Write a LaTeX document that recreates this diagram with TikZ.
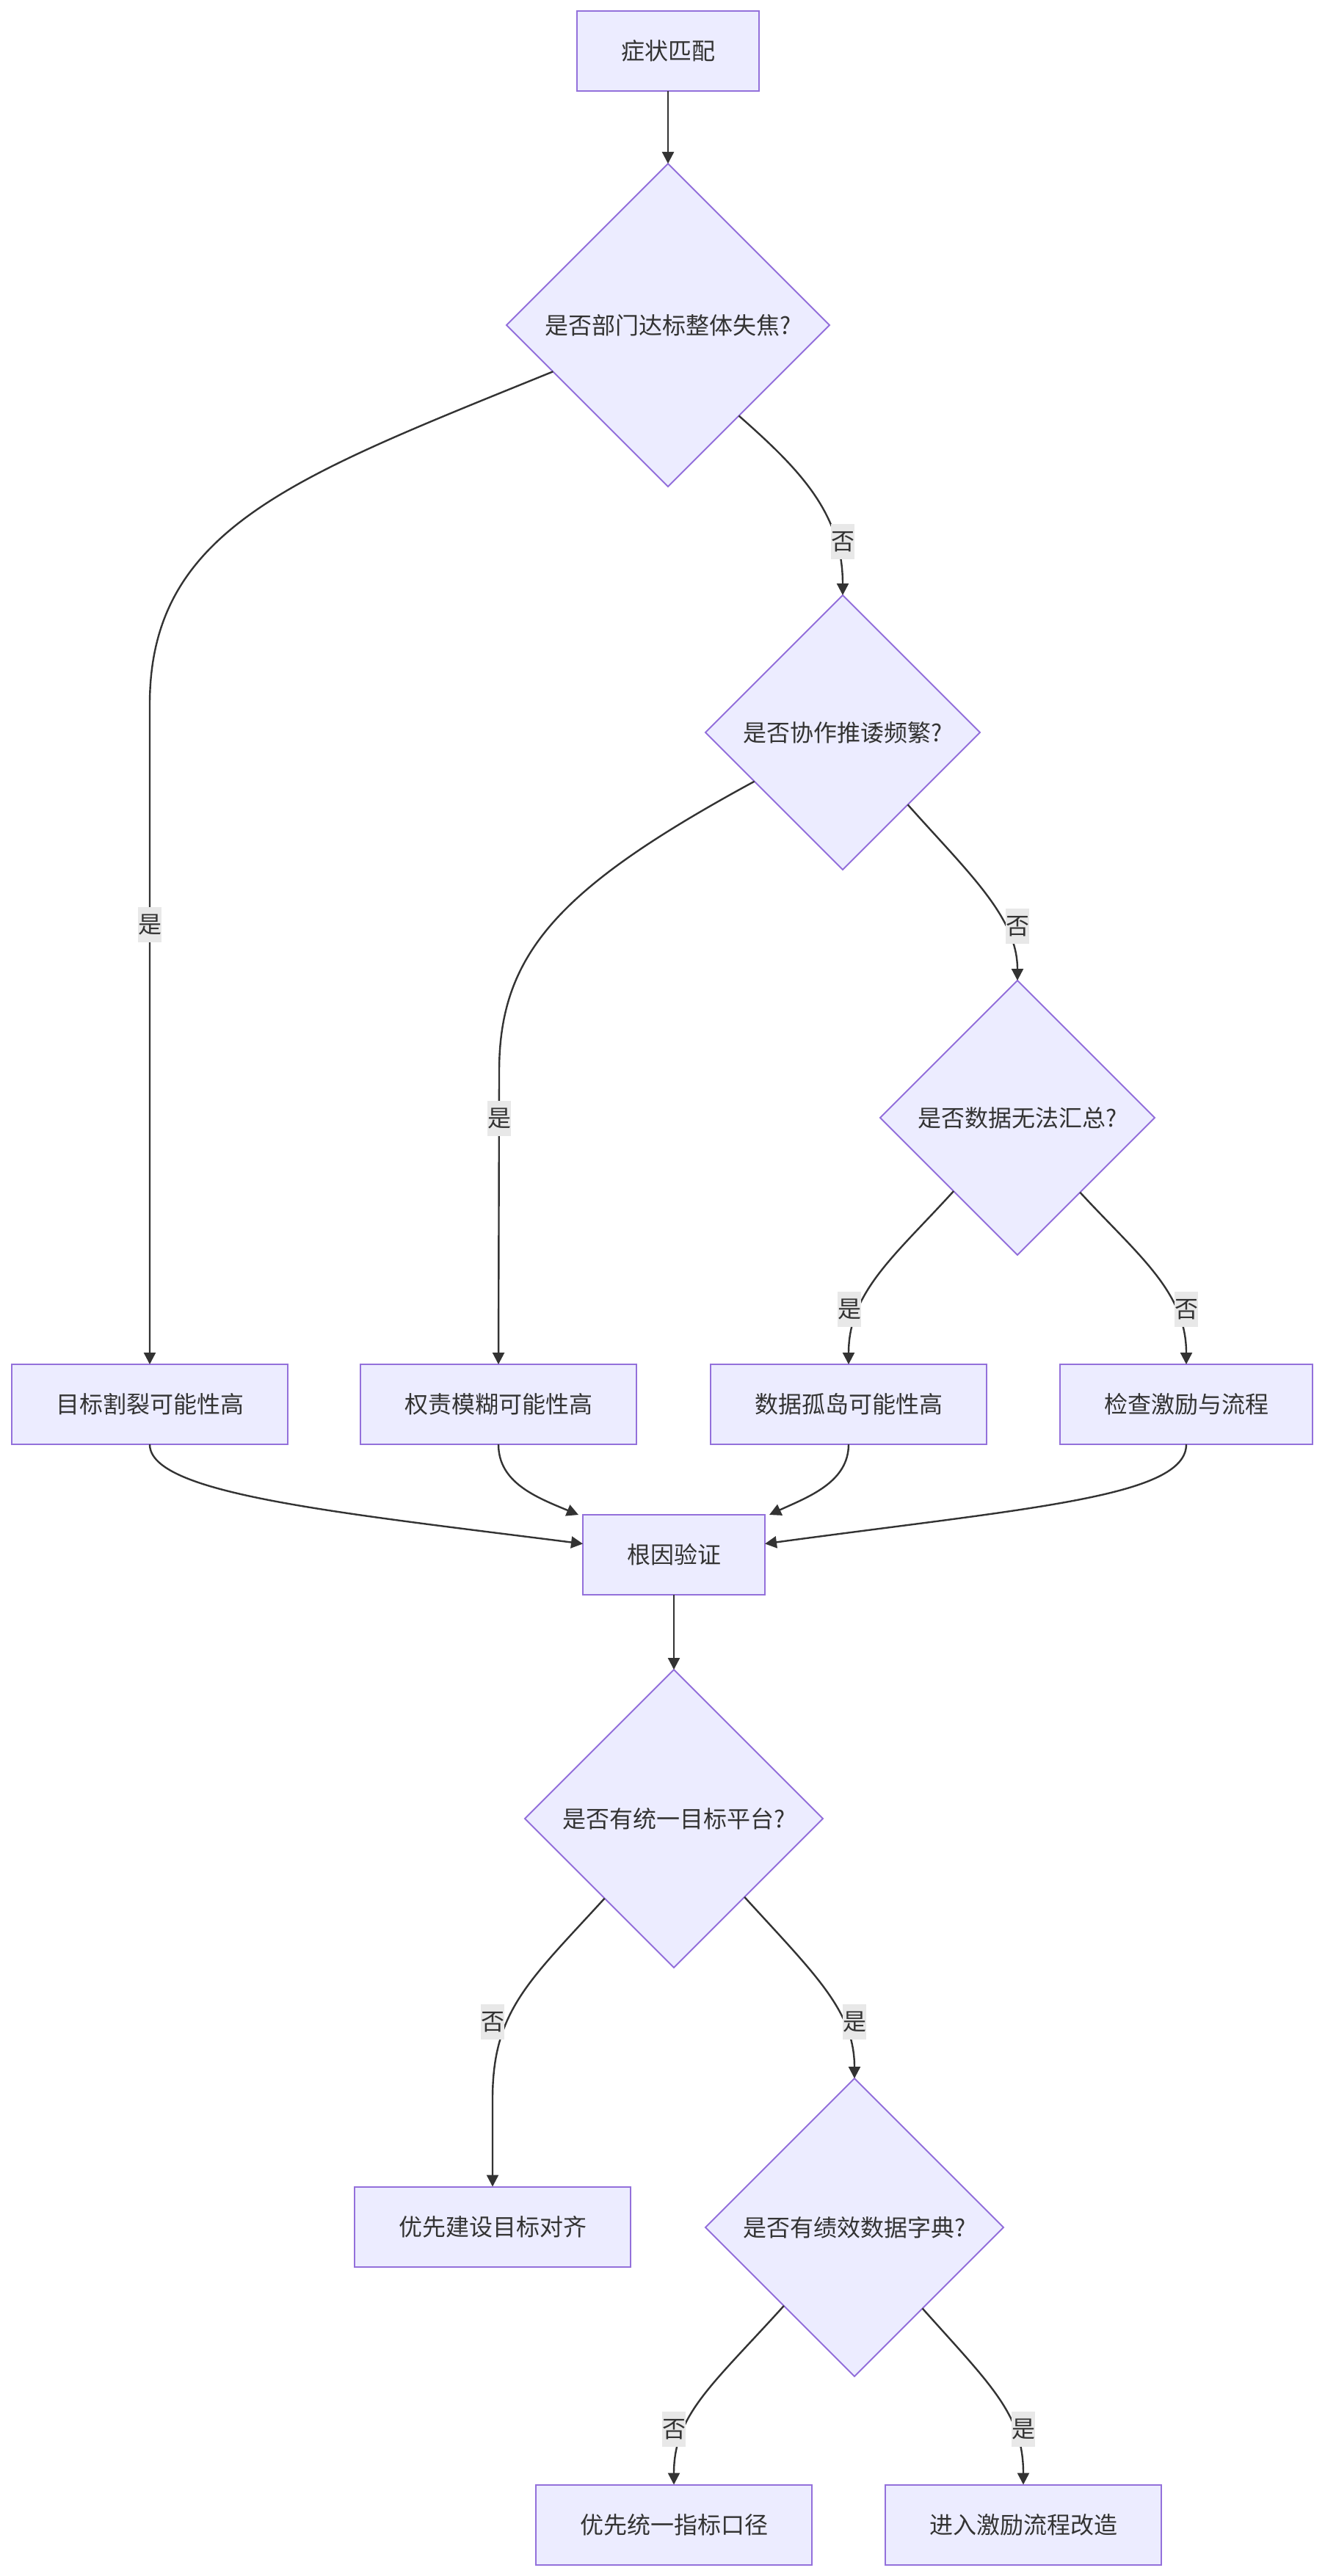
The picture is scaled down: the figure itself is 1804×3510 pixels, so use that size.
\documentclass[tikz,border=0pt]{standalone}
\usepackage{fontspec}
\setmainfont{Noto Sans CJK SC}
\usetikzlibrary{shapes.geometric,arrows.meta,calc}
\definecolor{nodefill}{HTML}{ECECFF}
\definecolor{nodeline}{HTML}{9370DB}
\definecolor{txt}{HTML}{333333}
\definecolor{lblbg}{HTML}{E8E8E8}
\begin{document}
\begin{tikzpicture}[x=0.5pt,y=-0.5pt,
  every node/.style={font=\fontsize{16pt}{19pt}\selectfont,text=txt},
  box/.style={draw=nodeline,fill=nodefill,line width=1pt,minimum height=54.5pt,inner sep=0pt,outer sep=0pt},
  dec/.style={diamond,draw=nodeline,fill=nodefill,line width=1pt,inner sep=0pt,outer sep=0pt},
  conn/.style={draw=txt,line width=1.2pt,-{Triangle[length=8pt,width=8pt]}},
  lbl/.style={fill=lblbg,inner xsep=0pt,inner ysep=0pt,minimum height=24pt,minimum width=16pt}
]
\useasboundingbox (0,0) rectangle (1804,3510);
\fill[white] (0,0) rectangle (1804,3510);

% nodes
\node[box,minimum width=124pt] (A) at (910,69.5) {症状匹配};
\node[dec,minimum width=220pt,minimum height=220pt] (D1) at (910,443) {是否部门达标整体失焦?};
\node[dec,minimum width=187pt,minimum height=187pt] (D2) at (1148,998) {是否协作推诿频繁?};
\node[dec,minimum width=187pt,minimum height=187pt] (D3) at (1386,1523) {是否数据无法汇总?};
\node[box,minimum width=188pt] (B1) at (204,1913.5) {目标割裂可能性高};
\node[box,minimum width=188pt] (B2) at (679,1913.5) {权责模糊可能性高};
\node[box,minimum width=188pt] (B3) at (1156,1913.5) {数据孤岛可能性高};
\node[box,minimum width=172pt] (B4) at (1616,1913.5) {检查激励与流程};
\node[box,minimum width=124pt] (C) at (918,2118.5) {根因验证};
\node[dec,minimum width=203pt,minimum height=203pt] (D4) at (918,2478) {是否有统一目标平台?};
\node[box,minimum width=188pt] (E1) at (671,3034) {优先建设目标对齐};
\node[dec,minimum width=203pt,minimum height=203pt] (D5) at (1164,3035) {是否有绩效数据字典?};
\node[box,minimum width=188pt] (F1) at (918,3440) {优先统一指标口径};
\node[box,minimum width=188pt] (F2) at (1394,3440) {进入激励流程改造};

% connectors
\draw[conn] (A) -- (D1);
\draw[conn] (D1.202.6) .. controls (400,650) and (204,720) .. (204,960) -- (B1.north);
\draw[conn] (D1.308.8) .. controls (1090,640) and (1148,700) .. (D2.north);
\draw[conn] (D2.209.6) .. controls (760,1210) and (680,1300) .. (680,1460) -- (B2.north);
\draw[conn] (D2.312.3) .. controls (1320,1190) and (1386,1250) .. (D3.north);
\draw[conn] (D3.229.2) .. controls (1220,1710) and (1156,1760) .. (B3.north);
\draw[conn] (D3.310.5) .. controls (1550,1710) and (1616,1760) .. (B4.north);
\draw[conn] (B1.south) .. controls (204,2035) and (450,2060) .. ($(C.west)+(0,-15)$);
\draw[conn] (B2.south) .. controls (679,2020) and (730,2040) .. ($(C.north west)+(-6,0)$);
\draw[conn] (B3.south) .. controls (1156,2020) and (1100,2040) .. ($(C.north east)+(6,0)$);
\draw[conn] (B4.south) .. controls (1616,2040) and (1400,2055) .. ($(C.east)+(0,-15)$);
\draw[conn] (C) -- (D4);
\draw[conn] (D4.229) .. controls (720,2700) and (671,2740) .. (671,2860) -- (E1.north);
\draw[conn] (D4.312) .. controls (1110,2690) and (1164,2740) .. (D5.north);
\draw[conn] (D5.228) .. controls (970,3250) and (918,3290) .. (F1.north);
\draw[conn] (D5.310.5) .. controls (1350,3250) and (1394,3290) .. (F2.north);

% edge labels
\node[lbl] (L1) at (204,1260) {是};
\node[lbl] (L2) at (1148,738) {否};
\node[lbl] (L3) at (680,1524) {是};
\node[lbl] (L4) at (1386,1262) {否};
\node[lbl] (L5) at (1157,1784) {是};
\node[lbl] (L6) at (1616,1784) {否};
\node[lbl] (L7) at (671,2755) {否};
\node[lbl] (L8) at (1164,2755) {是};
\node[lbl] (L9) at (918,3310) {否};
\node[lbl] (L10) at (1394,3310) {是};
\end{tikzpicture}
\end{document}
